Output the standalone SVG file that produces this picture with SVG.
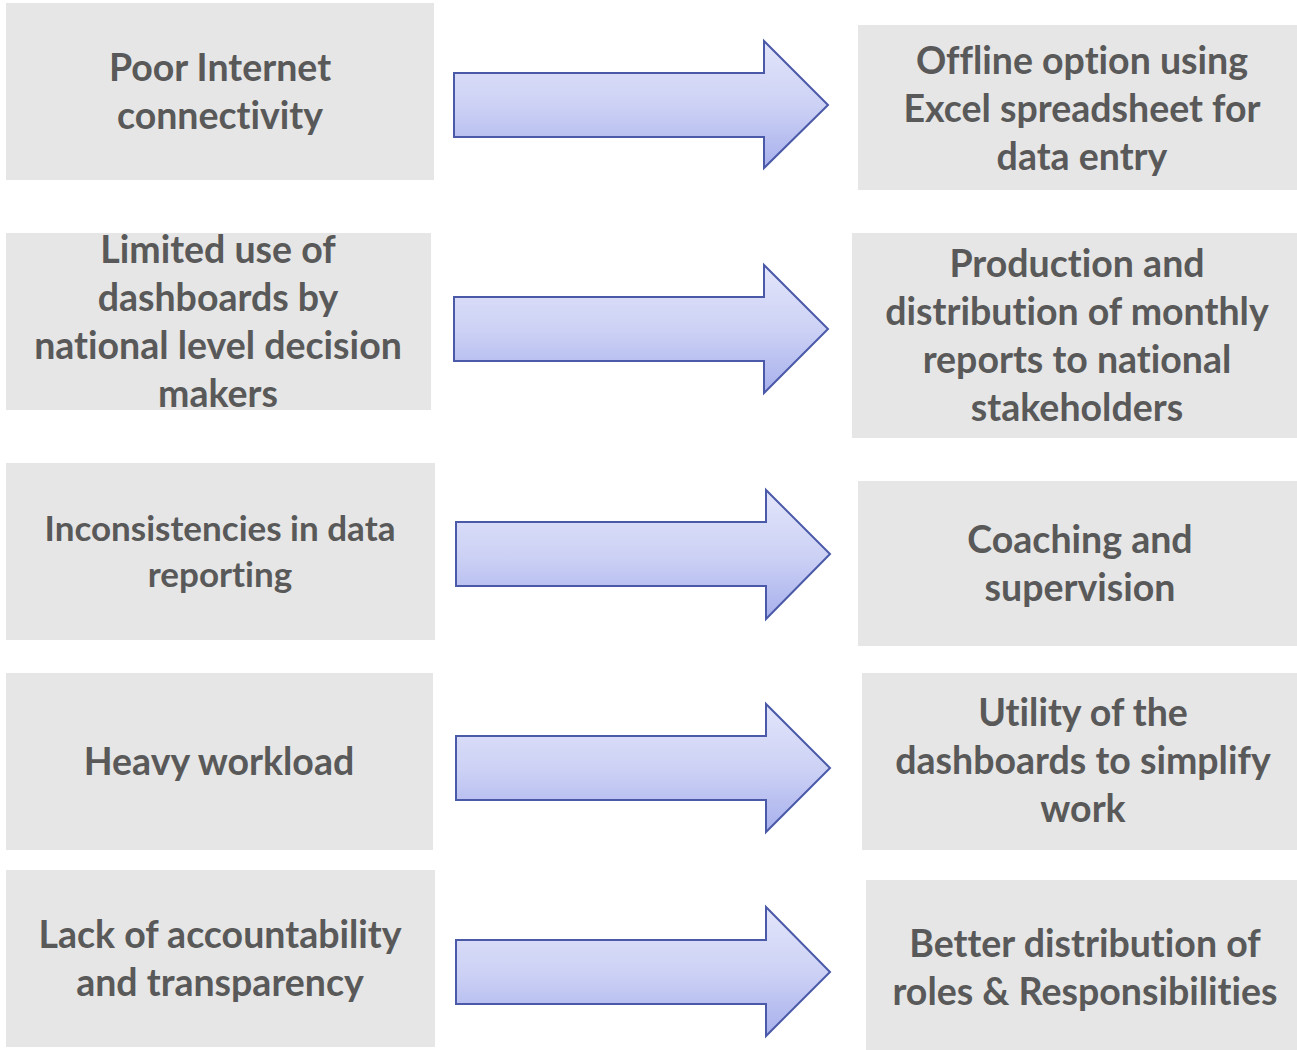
<svg xmlns="http://www.w3.org/2000/svg" width="1297" height="1050" viewBox="0 0 1297 1050">
  <defs>
    <linearGradient id="arrowGrad" x1="0" y1="0" x2="0" y2="1">
      <stop offset="0" stop-color="#e3e5fa"/>
      <stop offset="0.5" stop-color="#cdd2f5"/>
      <stop offset="1" stop-color="#a7b0ec"/>
    </linearGradient>
  </defs>
  <style>
    .box { fill: #e6e6e6; }
    .lbl { font-family: Lato, "Liberation Sans", sans-serif; font-weight: bold; font-size: 37.5px; fill: #595959; text-anchor: middle; font-variant-ligatures: none; }
    .sm { font-size: 35px; }
    .arrow { fill: url(#arrowGrad); stroke: #4a59a8; stroke-width: 2; stroke-linejoin: miter; }
  </style>
  <rect width="1297" height="1050" fill="#ffffff"/>

  <g id="left-1">
    <rect class="box" x="6" y="3" width="428" height="177"/>
    <text class="lbl" x="220" y="81">Poor Internet</text>
    <text class="lbl" x="220" y="129">connectivity</text>
  </g>
  <g id="left-2">
    <rect class="box" x="6" y="233" width="425" height="177"/>
    <text class="lbl" x="218" y="263">Limited use of</text>
    <text class="lbl" x="218" y="311">dashboards by</text>
    <text class="lbl" x="218" y="359">national level decision</text>
    <text class="lbl" x="218" y="407">makers</text>
  </g>
  <g id="left-3">
    <rect class="box" x="6" y="463" width="429" height="177"/>
    <text class="lbl sm" x="220" y="541">Inconsistencies in data</text>
    <text class="lbl sm" x="220" y="587">reporting</text>
  </g>
  <g id="left-4">
    <rect class="box" x="6" y="673" width="427" height="177"/>
    <text class="lbl" x="219" y="775">Heavy workload</text>
  </g>
  <g id="left-5">
    <rect class="box" x="6" y="870" width="429" height="177"/>
    <text class="lbl" x="220" y="948">Lack of accountability</text>
    <text class="lbl" x="220" y="996">and transparency</text>
  </g>

  <g id="right-1">
    <rect class="box" x="858" y="25" width="439" height="165"/>
    <text class="lbl" x="1082" y="74">Offline option using</text>
    <text class="lbl" x="1082" y="122">Excel spreadsheet for</text>
    <text class="lbl" x="1082" y="170">data entry</text>
  </g>
  <g id="right-2">
    <rect class="box" x="852" y="233" width="445" height="205"/>
    <text class="lbl" x="1077" y="277">Production and</text>
    <text class="lbl" x="1077" y="325">distribution of monthly</text>
    <text class="lbl" x="1077" y="373">reports to national</text>
    <text class="lbl" x="1077" y="421">stakeholders</text>
  </g>
  <g id="right-3">
    <rect class="box" x="858" y="481" width="439" height="165"/>
    <text class="lbl" x="1080" y="553">Coaching and</text>
    <text class="lbl" x="1080" y="601">supervision</text>
  </g>
  <g id="right-4">
    <rect class="box" x="862" y="673" width="435" height="177"/>
    <text class="lbl" x="1083" y="726">Utility of the</text>
    <text class="lbl" x="1083" y="774">dashboards to simplify</text>
    <text class="lbl" x="1083" y="822">work</text>
  </g>
  <g id="right-5">
    <rect class="box" x="866" y="880" width="431" height="170"/>
    <text class="lbl" x="1085" y="957">Better distribution of</text>
    <text class="lbl" x="1085" y="1005">roles &amp; Responsibilities</text>
  </g>

  <g id="connectors">
    <polygon class="arrow" points="454,73 764,73 764,41 828,105 764,168 764,137 454,137"/>
    <polygon class="arrow" points="454,297 764,297 764,265 828,329 764,393 764,361 454,361"/>
    <polygon class="arrow" points="456,522 766,522 766,490 830,554 766,619 766,586 456,586"/>
    <polygon class="arrow" points="456,736 766,736 766,704 830,768 766,832 766,800 456,800"/>
    <polygon class="arrow" points="456,940 766,940 766,907 830,972 766,1036 766,1004 456,1004"/>
  </g>
</svg>
